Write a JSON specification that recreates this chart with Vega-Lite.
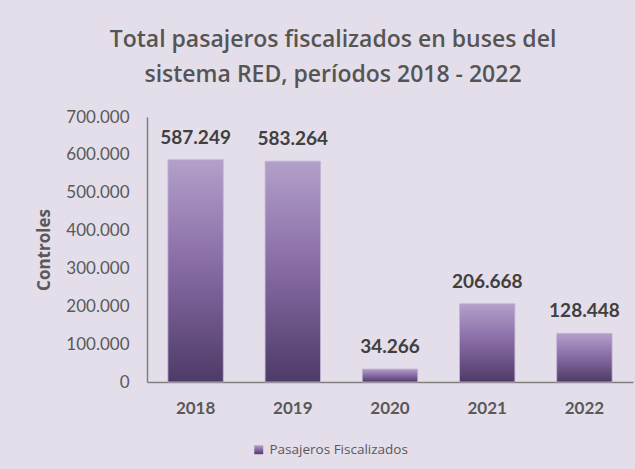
{
  "$schema": "https://vega.github.io/schema/vega-lite/v6.json",
  "width": 486,
  "height": 265,
  "autosize": {"type": "none"},
  "padding": {"left": 147, "top": 117, "right": 2, "bottom": 87},
  "background": "#e4deea",
  "config": {
    "view": {"stroke": null},
    "font": "Lato"
  },
  "title": {
    "text": ["Total pasajeros fiscalizados en buses del", "sistema RED, períodos 2018 - 2022"],
    "anchor": "middle",
    "dx": -57,
    "fontSize": 23,
    "fontWeight": 600,
    "color": "#555555",
    "font": "Open Sans",
    "lineHeight": 35,
    "offset": 21
  },
  "data": {
    "values": [
      {"year": "2018", "value": 587249, "label": "587.249", "serie": "Pasajeros Fiscalizados"},
      {"year": "2019", "value": 583264, "label": "583.264", "serie": "Pasajeros Fiscalizados"},
      {"year": "2020", "value": 34266, "label": "34.266", "serie": "Pasajeros Fiscalizados"},
      {"year": "2021", "value": 206668, "label": "206.668", "serie": "Pasajeros Fiscalizados"},
      {"year": "2022", "value": 128448, "label": "128.448", "serie": "Pasajeros Fiscalizados"}
    ]
  },
  "encoding": {
    "x": {
      "field": "year", "type": "nominal",
      "scale": {"paddingInner": 0.43, "paddingOuter": 0.215},
      "axis": {
        "title": null, "labelAngle": 0, "labelFontSize": 17, "labelFontWeight": "bold",
        "labelColor": "#595959", "labelPadding": 18, "ticks": false,
        "domainColor": "#7f7f7f", "domainWidth": 1.5
      }
    },
    "y": {
      "field": "value", "type": "quantitative",
      "scale": {"domain": [0, 700000], "nice": false},
      "axis": {
        "title": "Controles", "titleFontSize": 17, "titleFontWeight": "bold", "titleColor": "#595959",
        "titleFont": "Open Sans", "titlePadding": 12,
        "values": [0, 100000, 200000, 300000, 400000, 500000, 600000, 700000],
        "labelExpr": "replace(format(datum.value, ','), /,/g, '.')",
        "labelFontSize": 17, "labelColor": "#595959", "labelPadding": 18,
        "grid": false, "ticks": false, "domainColor": "#7f7f7f", "domainWidth": 1.5
      }
    }
  },
  "layer": [
    {
      "mark": {
        "type": "bar",
        "color": {
          "gradient": "linear", "x1": 0, "y1": 0, "x2": 0, "y2": 1,
          "stops": [
            {"offset": 0, "color": "#b3a0c9"},
            {"offset": 0.45, "color": "#8a6ea8"},
            {"offset": 1, "color": "#4e3a67"}
          ]
        },
        "stroke": "#c4b4d6", "strokeWidth": 0.8
      },
      "encoding": {
        "opacity": {
          "field": "serie", "type": "nominal",
          "scale": {"range": [1]},
          "legend": {
            "title": null, "orient": "none", "legendX": 105, "legendY": 326,
            "symbolType": "square", "symbolFillColor": "#6a5088", "symbolStrokeWidth": 0,
            "symbolSize": 80, "labelFontSize": 13.5, "labelColor": "#595959", "labelFont": "Open Sans"
          }
        }
      }
    },
    {
      "mark": {"type": "text", "dy": -12, "fontSize": 19, "fontWeight": "bold", "color": "#404040", "baseline": "bottom"},
      "encoding": {"text": {"field": "label"}}
    }
  ]
}
